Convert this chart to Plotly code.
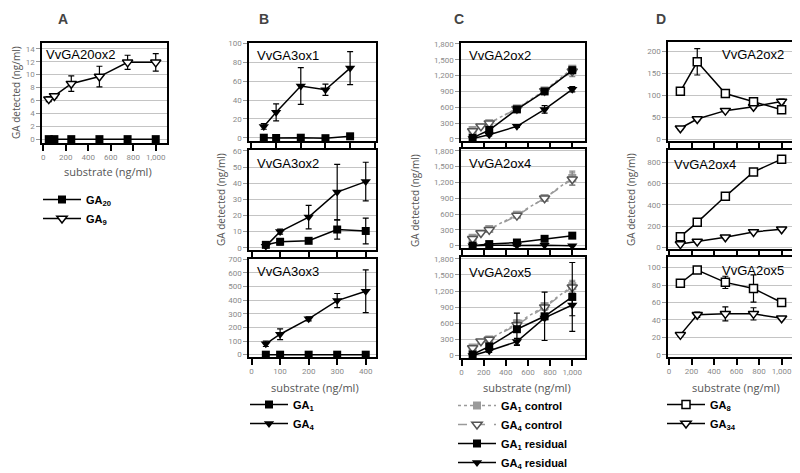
import plotly.graph_objects as go

# ---------------- DATA ----------------
# Panel A : VvGA20ox2
a_sub = [50, 100, 250, 500, 750, 1000]
a_ga20 = [0, 0, 0, 0, 0, 0]
a_ga20_err = [0.1, 0.1, 0.1, 0.1, 0.1, 0.1]
a_ga9 = [6.2, 6.7, 8.6, 9.7, 11.9, 11.9]
a_ga9_err = [0.4, 0.3, 1.2, 1.6, 1.1, 1.35]

# Panel B : VvGA3ox1/2/3
b_sub = [50, 100, 200, 300, 400]
b1_ga1 = [0, -0.3, 0, -0.5, 1.5]
b1_ga1_err = [0.5, 0.5, 0.5, 0.5, 2]
b1_ga4 = [12, 27, 55, 51, 74]
b1_ga4_err = [3, 9, 19.5, 6, 17.5]
b2_ga1 = [1.8, 3.7, 4.3, 11.3, 10.4]
b2_ga1_err = [0.5, 2, 0.8, 6, 8]
b2_ga4 = [1, 10, 19, 34.5, 41]
b2_ga4_err = [0.5, 1.5, 7.3, 17.2, 12]
b3_ga1 = [0, 0, 0, 0, 0]
b3_ga1_err = [2, 2, 2, 2, 2]
b3_ga4 = [80, 150, 263, 397, 465]
b3_ga4_err = [20, 40, 15, 52, 157]

# Panel C : VvGA2ox2/4/5
c_sub = [100, 250, 500, 750, 1000]
c_ga4ctl_sub = [100, 175, 250, 500, 750, 1000]
c1_ga1_ctl = [170, 300, 580, 920, 1330]
c1_ga1_ctl_err = [40, 40, 40, 40, 60]
c1_ga4_ctl = [150, 240, 300, 570, 910, 1280]
c1_ga4_ctl_err = [40, 20, 40, 40, 40, 100]
c1_ga1_res = [20, 170, 560, 900, 1300]
c1_ga1_res_err = [10, 40, 40, 40, 60]
c1_ga4_res = [10, 80, 240, 560, 940]
c1_ga4_res_err = [10, 20, 20, 70, 50]

c2_ga1_ctl = [150, 316, 587, 903, 1282]
c2_ga1_ctl_err = [40, 40, 40, 40, 130]
c2_ga4_ctl = [130, 240, 300, 570, 900, 1260]
c2_ga4_ctl_err = [40, 20, 40, 40, 40, 120]
c2_ga1_res = [0, 30, 60, 130, 190]
c2_ga1_res_err = [5, 10, 10, 10, 10]
c2_ga4_res = [0, 10, 5, 10, 0]
c2_ga4_res_err = [5, 5, 5, 5, 5]

c3_ga1_ctl = [150, 300, 600, 920, 1290]
c3_ga1_ctl_err = [40, 40, 60, 60, 110]
c3_ga4_ctl = [140, 265, 300, 570, 900, 1270]
c3_ga4_ctl_err = [40, 20, 40, 60, 60, 110]
c3_ga1_res = [20, 170, 490, 730, 1090]
c3_ga1_res_err = [10, 30, 300, 450, 640]
c3_ga4_res = [0, 90, 260, 700, 940]
c3_ga4_res_err = [5, 30, 60, 30, 200]

# Panel D : VvGA2ox2/4/5
d_sub = [100, 250, 500, 750, 1000]
d1_ga8 = [110, 177, 105, 86, 68]
d1_ga8_err = [3, 30, 3, 4, 4]
d1_ga34 = [26, 47, 66, 75, 87]
d1_ga34_err = [3, 4, 3, 3, 5]
d2_ga8 = [100, 235, 480, 710, 830]
d2_ga8_err = [10, 10, 10, 10, 10]
d2_ga34 = [30, 55, 95, 145, 170]
d2_ga34_err = [5, 5, 5, 5, 5]
d3_ga8 = [82, 97, 83, 76, 60]
d3_ga8_err = [1.5, 1.5, 7, 15.5, 1.5]
d3_ga34 = [23, 46, 47, 47, 42]
d3_ga34_err = [1.5, 3, 8, 7, 1.5]

panel_titles = ["VvGA20ox2", "VvGA3ox1", "VvGA3ox2", "VvGA3ox3",
                "VvGA2ox2", "VvGA2ox4", "VvGA2ox5",
                "VvGA2ox2", "VvGA2ox4", "VvGA2ox5"]
panel_letters = ["A", "B", "C", "D"]

# ---------------- LAYOUT GEOMETRY (page pixels; page has an 8px body margin) ----------------
OFF = 8
W, H = 800 - OFF, 473 - OFF
def X(p):
    return (p - OFF) / W
def Y(p):
    return 1 - (p - OFF) / H

boxes = [
    (42, 167, 43, 143),    # A
    (249, 376, 43, 141),   # B1
    (249, 376, 150, 250),  # B2
    (249, 376, 259, 357),  # B3
    (461, 585, 43, 141),   # C1
    (461, 585, 149, 248),  # C2
    (461, 585, 257, 358),  # C3
    (668, 794, 42, 141),   # D1
    (668, 794, 150, 249),  # D2
    (668, 794, 257, 357),  # D3
]
xranges = [[-10, 1100], [-10, 505], [-9, 436], [-9, 436],
           [-5, 1115], [-5, 1115], [-5, 1115],
           [-10, 1110], [-10, 1110], [-10, 1110]]
yranges = [[-0.6, 14.9], [-3.5, 100.7], [-1.4, 60.6], [-17, 702],
           [-38, 1816], [-44, 1832], [-45, 1832],
           [-3, 222], [-16, 916], [-2.3, 112]]
xdticks = [200, 100, 100, 100, 200, 200, 200, 200, 200, 200]
ydticks = [2, 20, 10, 100, 300, 300, 300, 50, 200, 20]
show_xlabels = [True, False, False, True, False, False, True, False, False, True]

TICKFONT = dict(family="Roboto", size=8, color="#8a8a8a")
fig = go.Figure()

def ax(i):
    return ("x" if i == 0 else f"x{i+1}"), ("y" if i == 0 else f"y{i+1}")

STY = {
    "sq": dict(symbol="square", size=8, color="black"),
    "tri": dict(symbol="triangle-down", size=9, color="black"),
    "otri": dict(symbol="triangle-down", size=9, color="white", line=dict(color="black", width=1.5)),
    "osq": dict(symbol="square", size=8, color="white", line=dict(color="black", width=1.5)),
    "gsq": dict(symbol="square", size=8, color="#9a9a9a"),
    "gtri": dict(symbol="triangle-down", size=9, color="white", line=dict(color="#555555", width=1.5)),
}

def add(i, x, y, err, name, legend, showlegend, mk, lcolor="black", dash="solid", ecolor="black"):
    xa, ya = ax(i)
    fig.add_trace(go.Scatter(
        x=x, y=y, mode="lines+markers", name=name, legend=legend,
        showlegend=showlegend, xaxis=xa, yaxis=ya,
        marker=STY[mk], line=dict(color=lcolor, width=1.5, dash=dash),
        error_y=dict(type="data", array=err, visible=True, color=ecolor, thickness=1.2, width=3),
    ))

n20 = "<b>GA<sub>20</sub></b>"; n9 = "<b>GA<sub>9</sub></b>"
n1 = "<b>GA<sub>1</sub></b>"; n4 = "<b>GA<sub>4</sub></b>"
n1c = "<b>GA<sub>1</sub> control</b>"; n4c = "<b>GA<sub>4</sub> control</b>"
n1r = "<b>GA<sub>1</sub> residual</b>"; n4r = "<b>GA<sub>4</sub> residual</b>"
n8 = "<b>GA<sub>8</sub></b>"; n34 = "<b>GA<sub>34</sub></b>"

# A
add(0, a_sub, a_ga20, a_ga20_err, n20, "legend", True, "sq")
add(0, a_sub, a_ga9, a_ga9_err, n9, "legend", True, "otri")
# B
for i, (g1, e1, g4, e4) in enumerate([(b1_ga1, b1_ga1_err, b1_ga4, b1_ga4_err),
                                      (b2_ga1, b2_ga1_err, b2_ga4, b2_ga4_err),
                                      (b3_ga1, b3_ga1_err, b3_ga4, b3_ga4_err)]):
    add(1 + i, b_sub, g4, e4, n4, "legend2", False, "tri")
    add(1 + i, b_sub, g1, e1, n1, "legend2", i == 0, "sq")
fig.add_trace(go.Scatter(x=[None], y=[None], mode="lines+markers", name=n4, legend="legend2",
                         marker=STY["tri"], line=dict(color="black", width=1.5), xaxis="x2", yaxis="y2"))
# C
cdata = [(c1_ga1_ctl, c1_ga1_ctl_err, c1_ga4_ctl, c1_ga4_ctl_err, c1_ga1_res, c1_ga1_res_err, c1_ga4_res, c1_ga4_res_err),
         (c2_ga1_ctl, c2_ga1_ctl_err, c2_ga4_ctl, c2_ga4_ctl_err, c2_ga1_res, c2_ga1_res_err, c2_ga4_res, c2_ga4_res_err),
         (c3_ga1_ctl, c3_ga1_ctl_err, c3_ga4_ctl, c3_ga4_ctl_err, c3_ga1_res, c3_ga1_res_err, c3_ga4_res, c3_ga4_res_err)]
for i, (g1c, e1c, g4c, e4c, g1r, e1r, g4r, e4r) in enumerate(cdata):
    sl = i == 0
    add(4 + i, c_sub, g1c, e1c, n1c, "legend3", sl, "gsq", lcolor="#9a9a9a", dash="dot", ecolor="#888888")
    add(4 + i, c_ga4ctl_sub, g4c, e4c, n4c, "legend3", sl, "gtri", lcolor="#9a9a9a", dash="dash", ecolor="#888888")
    add(4 + i, c_sub, g1r, e1r, n1r, "legend3", sl, "sq")
    add(4 + i, c_sub, g4r, e4r, n4r, "legend3", sl, "tri")
# D
for i, (g8, e8, g34, e34) in enumerate([(d1_ga8, d1_ga8_err, d1_ga34, d1_ga34_err),
                                        (d2_ga8, d2_ga8_err, d2_ga34, d2_ga34_err),
                                        (d3_ga8, d3_ga8_err, d3_ga34, d3_ga34_err)]):
    add(7 + i, d_sub, g34, e34, n34, "legend4", False, "otri")
    add(7 + i, d_sub, g8, e8, n8, "legend4", i == 0, "osq")
fig.add_trace(go.Scatter(x=[None], y=[None], mode="lines+markers", name=n34, legend="legend4",
                         marker=STY["otri"], line=dict(color="black", width=1.5), xaxis="x8", yaxis="y8"))

layout = dict(width=W, height=H, margin=dict(l=0, r=0, t=0, b=0, autoexpand=False),
              paper_bgcolor="white", plot_bgcolor="white", showlegend=True)
for i, (x0, x1, y0, y1) in enumerate(boxes):
    sfx = "" if i == 0 else str(i + 1)
    xa, ya = ax(i)
    layout["xaxis" + sfx] = dict(
        domain=[X(x0), X(x1)], range=xranges[i], anchor=ya, dtick=xdticks[i], tick0=0,
        showgrid=False, zeroline=False, showline=True, mirror=True, linecolor="black", linewidth=1.5,
        ticks="outside", ticklen=6, tickwidth=1.5, tickcolor="black",
        showticklabels=show_xlabels[i], tickformat=",d", tickfont=TICKFONT)
    layout["yaxis" + sfx] = dict(
        domain=[Y(y1), Y(y0)], range=yranges[i], anchor=xa, dtick=ydticks[i], tick0=0,
        showgrid=True, gridcolor="#c4c4c4", gridwidth=1.2, zeroline=False,
        showline=True, mirror=True, linecolor="black", linewidth=1.5,
        ticks="outside", ticklen=4, tickwidth=1, tickcolor="#999999",
        tickformat=",d", tickfont=TICKFONT)

lf = dict(family="Liberation Sans", size=11, color="black")
common_leg = dict(bgcolor="rgba(0,0,0,0)", font=lf, xanchor="left", yanchor="top",
                  tracegroupgap=0, itemwidth=38)
layout["legend"] = dict(x=X(38), y=Y(185), **common_leg)
layout["legend2"] = dict(x=X(245), y=Y(390), **common_leg)
layout["legend3"] = dict(x=X(453), y=Y(391), **common_leg)
layout["legend4"] = dict(x=X(662), y=Y(390), **common_leg)

ann = []
for letter, xp in zip(panel_letters, [63, 264, 459, 661]):
    ann.append(dict(text="<b>%s</b>" % letter, x=X(xp), y=Y(9), xref="paper", yref="paper",
                    xanchor="center", yanchor="top",
                    showarrow=False, font=dict(family="Liberation Sans", size=14, color="#444444")))
title_pos = [(0.015, 0.89, "left"), (0.05, 0.87, "left"), (0.05, 0.87, "left"), (0.05, 0.87, "left"),
             (0.05, 0.87, "left"), (0.05, 0.85, "left"), (0.05, 0.85, "left"),
             (0.94, 0.87, "right"), (0.03, 0.85, "left"), (0.94, 0.87, "right")]
for i, t in enumerate(panel_titles):
    xa, ya = ax(i)
    tx, ty, al = title_pos[i]
    ann.append(dict(text=t, x=tx, y=ty, xref=xa + " domain", yref=ya + " domain", xanchor=al,
                    yanchor="middle", showarrow=False,
                    font=dict(family="Liberation Sans", size=13, color="black")))
AXF = dict(family="Open Sans", size=10, color="#555555")
for xp, yp in [(16, 93), (221, 200), (415, 200), (631, 200)]:
    ann.append(dict(text="GA detected (ng/ml)", x=X(xp), y=Y(yp), xref="paper", yref="paper",
                    xanchor="center", yanchor="middle",
                    textangle=-90, showarrow=False, font=AXF))
for xp, yp in [(108, 171), (315, 387), (527, 387), (736, 387)]:
    ann.append(dict(text="substrate (ng/ml)", x=X(xp), y=Y(yp), xref="paper", yref="paper",
                    xanchor="center", yanchor="middle",
                    showarrow=False, font=dict(family="Open Sans", size=11, color="#555555")))
layout["annotations"] = ann
fig.update_layout(**layout)
fig.write_html("out.html")
